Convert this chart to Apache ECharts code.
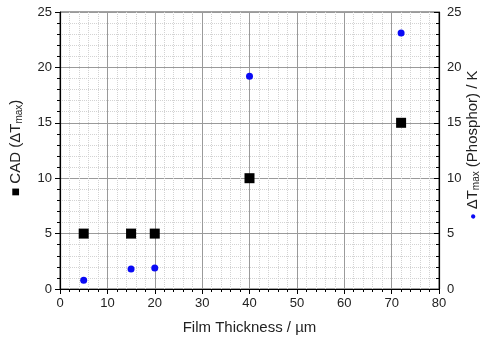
<!DOCTYPE html>
<html><head><meta charset="utf-8">
<script src="https://cdn.jsdelivr.net/npm/echarts@6/dist/echarts.min.js"></script>
<style>html,body{margin:0;padding:0;background:#fff}#c{width:486px;height:337px}</style>
</head><body><div id="c"></div>
<script>
const thickness = [5, 15, 20, 40, 72];
const cadValues = [5, 5, 5, 10, 15];
const phosphorValues = [0.8, 1.8, 1.9, 19.2, 23.1];
const xTitle = 'Film Thickness / µm';

const chart = echarts.init(document.getElementById('c'));
const font = 'Liberation Sans, Arial, sans-serif';
const pair = (xs, ys) => xs.map((x, i) => [x, ys[i]]);

chart.setOption({
  animation: false,
  grid: { left: 60, right: 47, top: 12, bottom: 48, outerBoundsMode: 'none', containLabel: false, show: true, borderColor: '#444', borderWidth: 1, backgroundColor: 'transparent' },
  xAxis: {
    type: 'value', min: 0, max: 80, interval: 10,
    name: xTitle, nameLocation: 'middle', nameGap: 31,
    nameTextStyle: { fontFamily: font, fontSize: 15, color: '#222' },
    axisLine: { show: true, lineStyle: { color: '#000', width: 1.2 } },
    axisTick: { show: true, inside: false, length: 5, lineStyle: { color: '#000' } },
    minorTick: { show: true, splitNumber: 5, length: 3, lineStyle: { color: '#000' } },
    axisLabel: { fontFamily: font, fontSize: 13, color: '#222', margin: 8 },
    splitLine: { show: true, lineStyle: { color: '#9a9a9a', width: 1 } },
    minorSplitLine: { show: true, lineStyle: { color: '#d3d3d3', type: [1, 1], width: 1 } }
  },
  yAxis: [{
    type: 'value', min: 0, max: 25, interval: 5, position: 'left',
    axisLine: { show: true, lineStyle: { color: '#000', width: 1.2 } },
    axisTick: { show: true, inside: false, length: 5, lineStyle: { color: '#000' } },
    minorTick: { show: true, splitNumber: 5, length: 3, lineStyle: { color: '#000' } },
    axisLabel: { fontFamily: font, fontSize: 13, color: '#222', margin: 8 },
    splitLine: { show: true, lineStyle: { color: '#9a9a9a', width: 1 } },
    minorSplitLine: { show: true, lineStyle: { color: '#d3d3d3', type: [1, 1], width: 1 } }
  }, {
    type: 'value', min: 0, max: 25, interval: 5, position: 'right',
    axisLine: { show: true, lineStyle: { color: '#000', width: 1.2 } },
    axisTick: { show: true, inside: true, length: 5, lineStyle: { color: '#000' } },
    minorTick: { show: true, splitNumber: 5, length: 3, lineStyle: { color: '#000' } },
    axisLabel: { fontFamily: font, fontSize: 13, color: '#222', margin: 8 },
    splitLine: { show: false }
  }],
  series: [{
    type: 'scatter', yAxisIndex: 0, data: pair(thickness, cadValues),
    symbol: 'rect', symbolSize: 10, itemStyle: { color: '#000', opacity: 1 }
  }, {
    type: 'scatter', yAxisIndex: 1, data: pair(thickness, phosphorValues),
    symbol: 'circle', symbolSize: 7, itemStyle: { color: '#0a0af5', opacity: 1 }
  }],
  graphic: [{
    type: 'text', x: 16, y: 148, rotation: Math.PI / 2,
    style: {
      text: '{sq|■} CAD (ΔT{sub|max})',
      font: '15px ' + font, fill: '#222', align: 'center', verticalAlign: 'middle',
      rich: {
        sq: { fontSize: 14, fill: '#000' },
        sub: { fontSize: 10, verticalAlign: 'bottom', padding: [7, 0, 0, 0] }
      }
    }
  }, {
    type: 'text', x: 473, y: 145, rotation: Math.PI / 2,
    style: {
      text: '{dot|●} ΔT{sub|max} (Phosphor) / K',
      font: '15px ' + font, fill: '#222', align: 'center', verticalAlign: 'middle',
      rich: {
        dot: { fontSize: 10, fill: '#0a0af5' },
        sub: { fontSize: 10, verticalAlign: 'bottom', padding: [7, 0, 0, 0] }
      }
    }
  }]
});
</script></body></html>
